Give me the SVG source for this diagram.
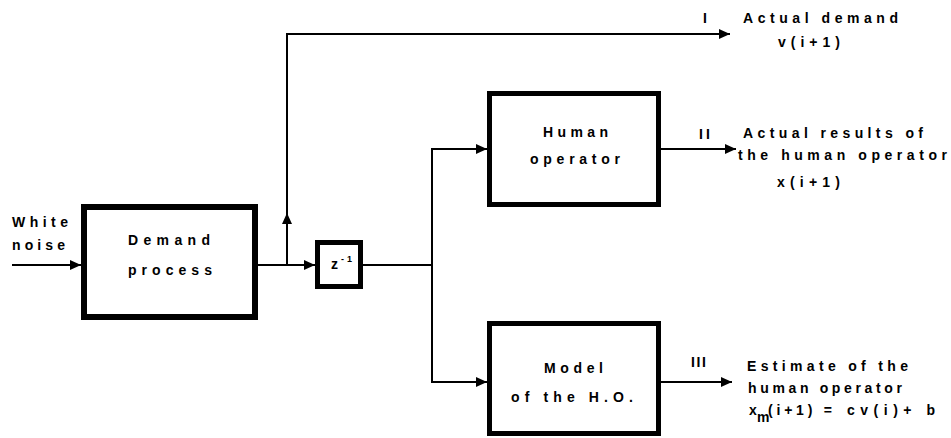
<svg xmlns="http://www.w3.org/2000/svg" width="951" height="438" viewBox="0 0 951 438">
<defs>
<marker id="arr" markerUnits="userSpaceOnUse" markerWidth="12" markerHeight="10" refX="11" refY="5" orient="auto">
<path d="M0,0 L11,5 L0,10 z" fill="#000"/>
</marker>
<style>
.box{fill:#fff;stroke:#000;stroke-width:5}
.thick{stroke-width:6}
.ln{fill:none;stroke:#000;stroke-width:2}
text{font-family:"Liberation Sans",Arial,Helvetica,sans-serif;font-weight:bold;font-size:14px;fill:#000}
.sm{font-size:9px}
</style>
</defs>
<rect width="951" height="438" fill="#fff"/>
<g id="connectors">
<path class="ln" d="M12,265 H81" marker-end="url(#arr)"/>
<path class="ln" d="M258,265 H315" marker-end="url(#arr)"/>
<path class="ln" d="M287,265 V213" marker-end="url(#arr)"/>
<path class="ln" d="M287,214 V34 H730" marker-end="url(#arr)"/>
<path class="ln" d="M363,265 H432"/>
<path class="ln" d="M432,265 V149 H487" marker-end="url(#arr)"/>
<path class="ln" d="M432,265 V382 H487" marker-end="url(#arr)"/>
<path class="ln" d="M661,149 H736" marker-end="url(#arr)"/>
<path class="ln" d="M661,382 H732" marker-end="url(#arr)"/>
</g>
<g id="input-label">
<text x="12" y="227" textLength="56">White</text>
<text x="12" y="250" textLength="53">noise</text>
</g>
<g id="demand-process">
<rect class="box thick" x="84" y="207" width="171" height="110"/>
<text x="128" y="245" textLength="82">Demand</text>
<text x="128" y="275" textLength="84">process</text>
</g>
<g id="delay">
<rect class="box" x="317.5" y="242.5" width="43" height="44"/>
<text x="331" y="269">z</text>
<text class="sm" x="341" y="262" textLength="11">-1</text>
</g>
<g id="human-operator">
<rect class="box" x="489.5" y="93.5" width="169" height="111"/>
<text x="543" y="137" textLength="65">Human</text>
<text x="530" y="164" textLength="90">operator</text>
</g>
<g id="model">
<rect class="box" x="489.5" y="323.5" width="169" height="110"/>
<text x="544" y="373" textLength="59">Model</text>
<text x="511" y="402" textLength="122">of the H.O.</text>
</g>
<g id="output-I">
<text x="703" y="23">I</text>
<text x="743" y="23" textLength="155">Actual demand</text>
<text x="778" y="47" textLength="62">v(i+1)</text>
</g>
<g id="output-II">
<text x="699" y="139" textLength="11">II</text>
<text x="743" y="138" textLength="180">Actual results of</text>
<text x="738" y="160" textLength="209">the human operator</text>
<text x="777" y="187" textLength="63">x(i+1)</text>
</g>
<g id="output-III">
<text x="691" y="367" textLength="15">III</text>
<text x="747" y="371" textLength="161">Estimate of the</text>
<text x="748" y="393" textLength="154">human operator</text>
<text x="749" y="415">x</text>
<text x="757" y="422" font-size="11">m</text>
<text x="768" y="415" textLength="64">(i+1) =</text>
<text x="847" y="415" textLength="88">cv(i)+ b</text>
</g>
</svg>
